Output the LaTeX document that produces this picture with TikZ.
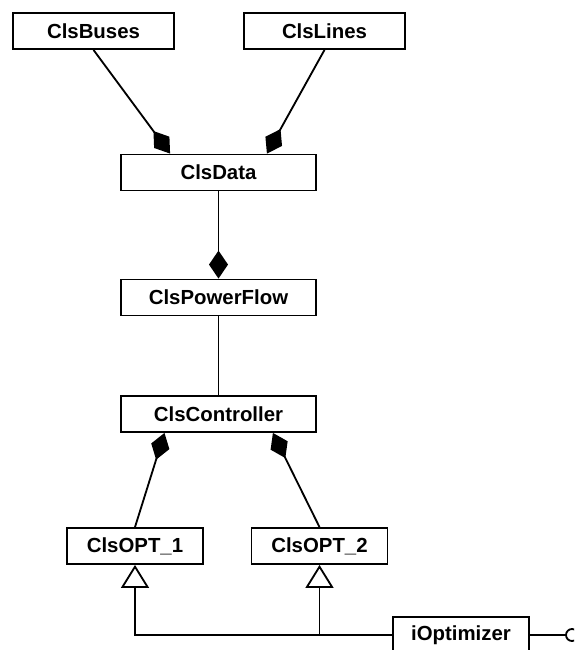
\documentclass[tikz,border=0pt]{standalone}
\usepackage{fontspec}
\setmainfont{Liberation Sans}
\usetikzlibrary{arrows.meta}

\begin{document}
\begin{tikzpicture}
[-,line width=1.3pt,x=0.025cm,y=-0.025cm,%
  every node/.style={shape=rectangle,draw,line width=1.3pt,fill=white,
    minimum height=0.9cm,inner sep=0pt,font=\fontsize{14.5}{16}\selectfont\bfseries},%
  wide/.style={minimum width=4.025cm},%
  mid/.style={minimum width=4.875cm},%
  small/.style={minimum width=3.4cm},%
  part/.style={{Diamond[length=0.7cm,width=0.475cm]}-},%
  isa/.style={{Triangle[open,length=0.575cm,width=0.7cm]}-}]
\path[use as bounding box,clip] (0,0) rectangle (574,650);
\node[wide] (buses) at (93.5,31) {ClsBuses};
\node[wide] (lines) at (324.5,31) {ClsLines};
\node[mid] (data) at (218.5,172.5) {ClsData};
\node[mid] (flow) at (218.5,297.5) {ClsPowerFlow};
\node[mid] (ctrl) at (218.5,414) {ClsController};
\node[small] (opt1) at (135,546) {ClsOPT\_1};
\node[small] (opt2) at (319.5,546) {ClsOPT\_2};
\node[small] (iopt) at (461,635) {iOptimizer};
\node[shape=circle,minimum size=0.3cm] (lolly) at (572,635) {};
% composition
\draw[part] ([xshift=-1.21cm]data.north) -- (buses.south);
\draw[part] ([xshift=1.21cm]data.north) -- (lines.south);
\draw[part] (flow.north) -- (data.south);
\draw (flow.south) -- (ctrl.north);
\draw[part] ([xshift=-1.35cm]ctrl.south) -- (opt1.north);
\draw[part] ([xshift=1.36cm]ctrl.south) -- (opt2.north);
% realization
\draw[isa] (opt1.south) |- (iopt.west);
\draw[isa] (opt2.south) -- (opt2.south |- iopt.west);
\draw (iopt.east) -- (lolly);
\end{tikzpicture}
\end{document}
